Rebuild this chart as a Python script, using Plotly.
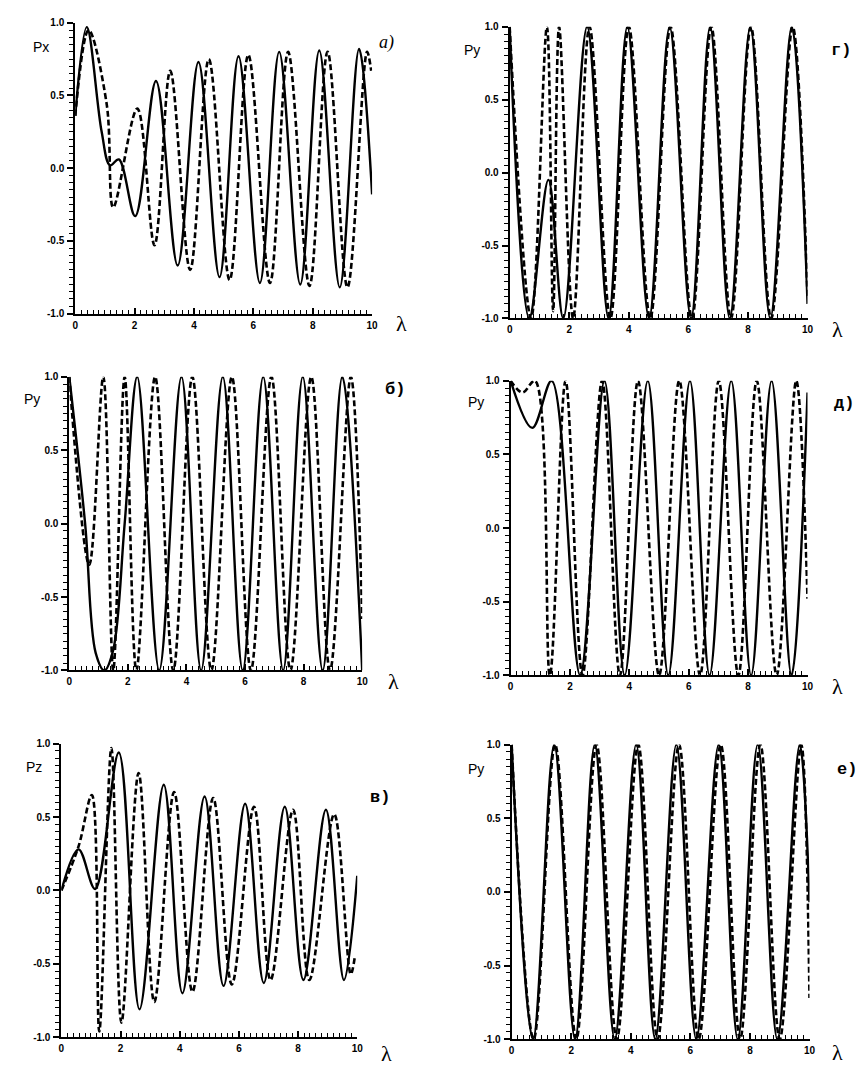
import plotly.graph_objects as go
from plotly.subplots import make_subplots

W, H = 863, 1068

# ---------------- data ----------------
# panel а) Px
a_solid_x = [0, 0.39, 0.89, 1.17, 1.47, 2.02, 2.72, 3.45, 4.15, 4.86, 5.50, 6.22, 6.87, 7.58, 8.22, 8.91, 9.56, 10.0]
a_solid_y = [0.36, 0.97, 0.25, 0.02, 0.06, -0.33, 0.60, -0.67, 0.73, -0.75, 0.77, -0.79, 0.80, -0.80, 0.81, -0.82, 0.82, -0.18]
a_dash_x = [0, 0.45, 1.06, 1.28, 2.09, 2.67, 3.20, 3.87, 4.50, 5.20, 5.83, 6.56, 7.17, 7.89, 8.50, 9.17, 9.83, 9.97]
a_dash_y = [0.36, 0.95, 0.44, -0.27, 0.41, -0.53, 0.67, -0.70, 0.75, -0.77, 0.78, -0.79, 0.80, -0.81, 0.80, -0.82, 0.80, 0.67]

# panel г) Py
g_solid_x = [0, 0.66, 1.30, 1.80, 2.60, 3.32, 3.95, 4.68, 5.37, 6.09, 6.73, 7.39, 8.08, 8.75, 9.47, 10.0]
g_solid_y = [1.0, -1.0, -0.05, -1.0, 1.0, -1.0, 1.0, -1.0, 1.0, -1.0, 1.0, -1.0, 1.0, -1.0, 1.0, -0.9]
g_dash_x = [0, 0.72, 1.25, 1.46, 1.66, 2.13, 2.68, 3.38, 4.00, 4.72, 5.40, 6.12, 6.77, 7.43, 8.10, 8.78, 9.50, 10.0]
g_dash_y = [1.0, -1.0, 1.0, -0.95, 1.0, -1.0, 1.0, -1.0, 1.0, -1.0, 1.0, -1.0, 1.0, -1.0, 1.0, -1.0, 1.0, -0.85]

# panel б) Py
b_solid_x = [0, 0.54, 0.90, 1.20, 1.50, 1.89, 2.32, 3.07, 3.83, 4.50, 5.24, 5.92, 6.62, 7.30, 7.97, 8.65, 9.32, 10.0]
b_solid_y = [1.0, 0.0, -0.88, -1.0, -0.86, 0.0, 1.0, -1.0, 1.0, -1.0, 1.0, -1.0, 1.0, -1.0, 1.0, -1.0, 1.0, -1.0]
b_dash_x = [0, 0.68, 1.16, 1.50, 1.89, 2.29, 2.93, 3.55, 4.20, 4.85, 5.55, 6.20, 6.90, 7.55, 8.26, 8.90, 9.61, 10.0]
b_dash_y = [1.0, -0.28, 1.0, -1.0, 1.0, -1.0, 1.0, -1.0, 1.0, -1.0, 1.0, -1.0, 1.0, -1.0, 1.0, -1.0, 1.0, -0.65]

# panel д) Py
d_solid_x = [0, 0.73, 1.38, 2.34, 3.16, 3.84, 4.62, 5.31, 6.04, 6.70, 7.43, 8.10, 8.79, 9.46, 10.0]
d_solid_y = [1.0, 0.68, 1.0, -1.0, 1.0, -1.0, 1.0, -1.0, 1.0, -1.0, 1.0, -1.0, 1.0, -1.0, 0.92]
d_dash_x = [0, 0.40, 0.82, 1.32, 1.85, 2.42, 3.08, 3.68, 4.29, 5.00, 5.68, 6.38, 7.01, 7.67, 8.29, 8.96, 9.62, 10.0]
d_dash_y = [1.0, 0.92, 1.0, -1.0, 1.0, -1.0, 1.0, -1.0, 1.0, -1.0, 1.0, -1.0, 1.0, -1.0, 1.0, -1.0, 1.0, -0.48]

# panel в) Pz
v_solid_x = [0, 0.58, 1.14, 1.94, 2.64, 3.46, 4.09, 4.84, 5.48, 6.21, 6.84, 7.55, 8.18, 8.94, 9.55, 10.0]
v_solid_y = [0.0, 0.28, 0.01, 0.94, -0.81, 0.72, -0.70, 0.64, -0.65, 0.59, -0.63, 0.57, -0.61, 0.55, -0.61, 0.10]
v_dash_x = [0, 0.58, 1.03, 1.28, 1.69, 2.03, 2.61, 3.14, 3.81, 4.43, 5.13, 5.76, 6.51, 7.07, 7.83, 8.38, 9.22, 9.78, 9.92]
v_dash_y = [0.0, 0.30, 0.65, -0.96, 0.97, -0.90, 0.80, -0.76, 0.67, -0.69, 0.63, -0.64, 0.57, -0.61, 0.55, -0.61, 0.52, -0.57, -0.45]

# panel е) Py
e_solid_x = [0, 0.72, 1.43, 2.13, 2.79, 3.46, 4.18, 4.82, 5.53, 6.20, 6.95, 7.59, 8.26, 8.92, 9.67, 10.0]
e_solid_y = [1, -1, 1, -1, 1, -1, 1, -1, 1, -1, 1, -1, 1, -1, 1, -0.07]
e_dash_x = [0, 0.74, 1.46, 2.17, 2.85, 3.53, 4.25, 4.90, 5.62, 6.28, 7.02, 7.67, 8.35, 9.00, 9.72, 10.0]
e_dash_y = [1, -1, 1, -1, 1, -1, 1, -1, 1, -1, 1, -1, 1, -1, 1, -0.72]

# ticks
x_tickvals = [0, 2, 4, 6, 8, 10]
x_ticktext = ["0", "2", "4", "6", "8", "10"]
y_tickvals = [-1.0, -0.5, 0.0, 0.5, 1.0]
y_ticktext = ["-1.0", "-0.5", "0.0", "0.5", "1.0"]

# panel names / axis names
panel_letters = ["а)", "г)", "б)", "д)", "в)", "е)"]
panel_ylabels = ["Px", "Py", "Py", "Py", "Pz", "Py"]

# ---------------- layout helpers ----------------
def px(x):
    return x / W

def py(y):
    return 1 - y / H

# pixel boxes of each plot area: (left, right, top, bottom)
boxes = [
    (73, 373, 17, 311),    # а
    (512, 813, 21, 316),   # г
    (67, 363, 375, 672),   # б
    (513, 813, 379, 677),  # д
    (59, 358, 746, 1043),  # в
    (514, 815, 747, 1045), # е
]
series = [
    (a_solid_x, a_solid_y, a_dash_x, a_dash_y),
    (g_solid_x, g_solid_y, g_dash_x, g_dash_y),
    (b_solid_x, b_solid_y, b_dash_x, b_dash_y),
    (d_solid_x, d_solid_y, d_dash_x, d_dash_y),
    (v_solid_x, v_solid_y, v_dash_x, v_dash_y),
    (e_solid_x, e_solid_y, e_dash_x, e_dash_y),
]
ylabel_pos = [(38, 41), (474, 45), (29, 397), (478, 400), (31, 770), (478, 772)]
letter_pos = [(388, 37), (847, 45), (396, 388), (850, 402), (381, 800), (853, 772)]
lam_pos = [(403, 321), (843, 327), (395, 683), (843, 688), (388, 1059), (843, 1058)]

fig = make_subplots(rows=3, cols=2)

tickfont = dict(family="Liberation Sans", size=10, color="black", weight="bold")

for i, (sx, sy, dx, dy) in enumerate(series):
    r, c = i // 2 + 1, i % 2 + 1
    fig.add_trace(go.Scatter(x=sx, y=sy, mode="lines",
                             line=dict(color="black", width=2.4, shape="spline", smoothing=1.0),
                             showlegend=False, hoverinfo="skip"), row=r, col=c)
    fig.add_trace(go.Scatter(x=dx, y=dy, mode="lines",
                             line=dict(color="black", width=2.6, dash="6px,3px", shape="spline", smoothing=1.0),
                             showlegend=False, hoverinfo="skip"), row=r, col=c)
    L, R, T, B = boxes[i]
    fig.update_xaxes(domain=[px(L), px(R)], range=[0, 10],
                     showline=True, linecolor="black", linewidth=2,
                     showgrid=False, zeroline=False,
                     tickmode="array", tickvals=x_tickvals, ticktext=x_ticktext,
                     ticks="inside", ticklen=6, tickwidth=1.5, tickcolor="black",
                     minor=dict(tickmode="linear", tick0=0, dtick=0.2, ticks="inside",
                                ticklen=4, tickwidth=1.2, tickcolor="black"),
                     tickfont=tickfont, ticklabelstandoff=1, row=r, col=c)
    fig.update_yaxes(domain=[py(B), py(T)], range=[-1, 1],
                     showline=True, linecolor="black", linewidth=2,
                     showgrid=False, zeroline=False,
                     tickmode="array", tickvals=y_tickvals, ticktext=y_ticktext,
                     ticks="outside", ticklen=6, tickwidth=1.5, tickcolor="black",
                     minor=dict(tickmode="linear", tick0=0, dtick=0.05, ticks="outside",
                                ticklen=4, tickwidth=1.2, tickcolor="black"),
                     tickfont=tickfont, ticklabelstandoff=1, row=r, col=c)

annotations = []
for i in range(6):
    x, y = ylabel_pos[i]
    annotations.append(dict(text=panel_ylabels[i], x=px(x), y=py(y), xref="paper", yref="paper",
                            showarrow=False, xanchor="center", yanchor="middle",
                            font=dict(family="Liberation Sans", size=14, color="black")))
    x, y = letter_pos[i]
    if i == 0:
        f = dict(family="Liberation Serif", size=18, color="black", style="italic")
    else:
        f = dict(family="Liberation Mono", size=17, color="black", weight="bold")
    annotations.append(dict(text=panel_letters[i], x=px(x), y=py(y), xref="paper", yref="paper",
                            showarrow=False, xanchor="center", yanchor="middle", font=f))
    x, y = lam_pos[i]
    annotations.append(dict(text="λ", x=px(x), y=py(y), xref="paper", yref="paper",
                            showarrow=False, xanchor="center", yanchor="middle",
                            font=dict(family="Liberation Serif", size=22, color="black")))

fig.update_layout(width=W, height=H, margin=dict(l=0, r=0, t=0, b=0),
                  paper_bgcolor="white", plot_bgcolor="white",
                  annotations=annotations, showlegend=False)

fig.write_html("out.html")
